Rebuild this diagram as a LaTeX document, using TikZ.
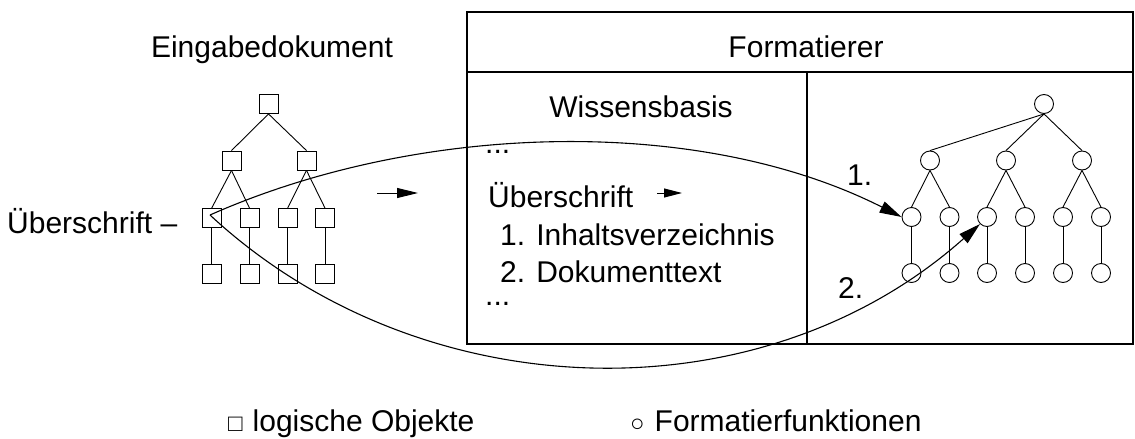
\documentclass[tikz,border=0pt]{standalone}
\usepackage{fontspec}
\setmainfont{Liberation Sans}
\usetikzlibrary{arrows.meta}
\begin{document}
\begin{tikzpicture}[x=1pt,y=-1pt,
  sq/.style={draw, rectangle, minimum size=19pt, inner sep=0pt, line width=0.9pt},
  cir/.style={draw, circle, minimum size=19pt, inner sep=0pt, line width=0.9pt},
  treeedge/.style={line width=0.9pt},
  lbl/.style={font=\fontsize{30}{36}\selectfont, inner sep=0pt},
  frame/.style={draw, rectangle, line width=1.5pt, inner sep=0pt},
  curve/.style={line width=1.1pt, -{Triangle[length=22pt,width=12pt]}},
  smallarrow/.style={line width=1pt, -{Triangle[length=21pt,width=10pt]}},
  ]
\useasboundingbox (0,0) rectangle (1135,439);

% frame
\node[frame, minimum width=666pt, minimum height=60pt] (head) at (800,42) {};
\node[frame, minimum width=340pt, minimum height=272pt] (wb) at (637,208) {};
\node[frame, minimum width=326pt, minimum height=272pt] (fp) at (970,208) {};

% texts
\node[lbl, anchor=base] (eing) at (272,57) {Eingabedokument};
\node[lbl, anchor=base] (fmt) at (806,57) {Formatierer};
\node[lbl, anchor=base] (wiss) at (641,117) {Wissensbasis};
\node[lbl, anchor=base west] (dots1) at (485,153) {...};
\node[lbl, anchor=base west] (ueb) at (488,207) {Überschrift};
\node[lbl, anchor=base west] (inh) at (500,245) {1. Inhaltsverzeichnis};
\node[lbl, anchor=base west] (dok) at (500,282) {2. Dokumenttext};
\node[lbl, anchor=base west] (dots2) at (485,305) {...};
\node[lbl, anchor=base west] (one) at (847,185) {1.};
\node[lbl, anchor=base west] (two) at (838,298) {2.};
\node[lbl, anchor=base west] (uebl) at (7,233) {Überschrift –};
\node[lbl, anchor=base west] (leg1) at (228,431) {{\fontsize{24}{30}\selectfont □}\hspace{10pt}logische Objekte};
\node[lbl, anchor=base west] (leg2) at (630,431) {{\fontsize{24}{30}\selectfont ○}\hspace{10pt}Formatierfunktionen};

% square tree
\node[sq] (s0) at (268.5,104) {};
\node[sq] (s1a) at (231.5,160.5) {};
\node[sq] (s1b) at (306.5,160.5) {};
\foreach \n/\x in {a/211.7,b/249.5,c/287.7,d/325}{
  \node[sq] (s2\n) at (\x,218) {};
  \node[sq] (s3\n) at (\x,274) {};
  \draw[treeedge] (s2\n.south) -- (s3\n.north);
}
\draw[treeedge] (s0.south) -- (s1a.north);
\draw[treeedge] (s0.south) -- (s1b.north);
\draw[treeedge] (s1a.south) -- (s2a.north);
\draw[treeedge] (s1a.south) -- (s2b.north);
\draw[treeedge] (s1b.south) -- (s2c.north);
\draw[treeedge] (s1b.south) -- (s2d.north);

% circle tree
\node[cir] (c0) at (1044,104) {};
\node[cir] (c1a) at (930,160.5) {};
\node[cir] (c1b) at (1006,160.5) {};
\node[cir] (c1c) at (1082,160.5) {};
\foreach \n/\x in {a/911.5,b/949.5,c/987,d/1025,e/1063,f/1101}{
  \node[cir] (c2\n) at (\x,217) {};
  \node[cir] (c3\n) at (\x,273) {};
  \draw[treeedge] (c2\n.south) -- (c3\n.north);
}
\draw[treeedge] (c0.south) -- (c1a.north);
\draw[treeedge] (c0.south) -- (c1b.north);
\draw[treeedge] (c0.south) -- (c1c.north);
\draw[treeedge] (c1a.south) -- (c2a.north);
\draw[treeedge] (c1a.south) -- (c2b.north);
\draw[treeedge] (c1b.south) -- (c2c.north);
\draw[treeedge] (c1b.south) -- (c2d.north);
\draw[treeedge] (c1c.south) -- (c2e.north);
\draw[treeedge] (c1c.south) -- (c2f.north);

% arrows
\coordinate (la1) at (377,193);
\coordinate (la2) at (418,193);
\draw[smallarrow] (la1) -- (la2);
\coordinate (pa1) at (657,193);
\coordinate (pa2) at (682,193);
\draw[line width=1pt, -{Triangle[length=18pt,width=9pt]}] (pa1) -- (pa2);

% curves
\coordinate (v) at (210,215);
\draw[curve] (v) .. controls (420,122) and (700,115) .. (c2a.west);
\draw[curve] (v) .. controls (420,410) and (760,420) .. (c2c.225);
\end{tikzpicture}
\end{document}
